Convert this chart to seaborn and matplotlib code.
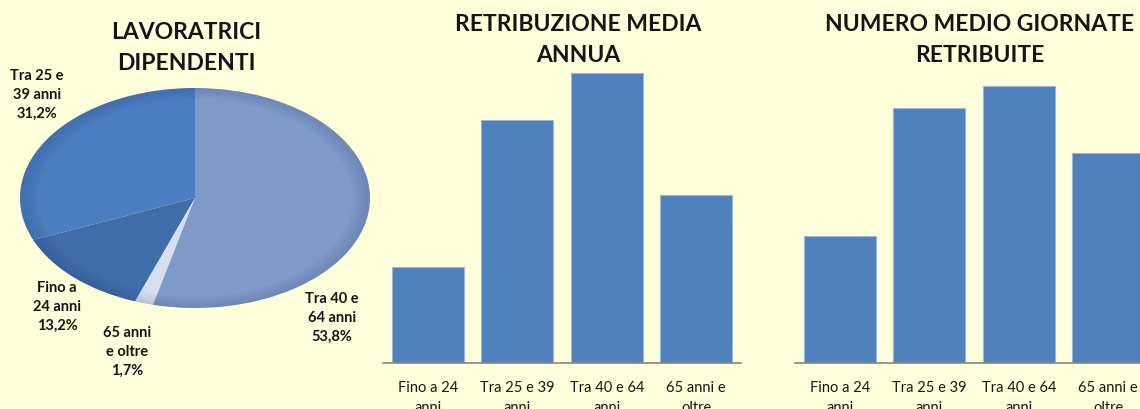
import matplotlib
matplotlib.use("Agg")
import matplotlib.pyplot as plt
from matplotlib.patches import Wedge
import seaborn as sns

# data
age_groups = ["Fino a 24\nanni", "Tra 25 e 39\nanni", "Tra 40 e 64\nanni", "65 anni e\noltre"]
retribuzione_media = [6100, 15500, 18500, 10700]
giornate_medie = [115, 230, 250, 190]

pie_labels = ["Tra 25 e\n39 anni", "Fino a\n24 anni", "65 anni\ne oltre", "Tra 40 e\n64 anni"]
pie_shares = [31.2, 13.2, 1.7, 53.8]
pie_colors = ["#4A7DC1", "#3F6DAA", "#D5DFEF", "#7F99C9"]

BG = "#FFFFDC"
BAR = "#4F81BD"
AXIS = "#868686"
TXT = "#151515"

sns.set_style("white")
plt.rcParams["font.family"] = ["Lato", "DejaVu Sans"]

W, H = 1140, 409
fig = plt.figure(figsize=(W / 100, H / 100), dpi=100, facecolor=BG)


def px_axes(left, top, right, bottom):
    return fig.add_axes([left / W, 1 - bottom / H, (right - left) / W, (bottom - top) / H])


# ---- pie: LAVORATRICI DIPENDENTI ----
ax_pie = px_axes(0, 0, 380, 409)
ax_pie.set_facecolor("none")
ax_pie.pie(pie_shares, colors=pie_colors, startangle=90, counterclock=True,
           wedgeprops=dict(linewidth=0))
# soft darker rim to fake the bevel
for k in range(10):
    ax_pie.add_patch(Wedge((0, 0), 1 - k * 0.01, 0, 360, width=0.01,
                           facecolor=(0.05, 0.1, 0.25, 0.14 - k * 0.013), linewidth=0))
ax_pie.set_aspect("auto")
cx, cy, a, b = 195, 198, 175, 110
ax_pie.set_xlim(-cx / a, (380 - cx) / a)
ax_pie.set_ylim(-(409 - cy) / b, cy / b)
ax_pie.axis("off")

label_pos = [(37, 95), (57, 307), (127, 352), (332, 318)]
for lab, val, (px, py) in zip(pie_labels, pie_shares, label_pos):
    txt = lab + "\n" + f"{val:.1f}%".replace(".", ",")
    ax_pie.text((px - cx) / a, (cy - py) / b, txt, ha="center", va="center",
                fontsize=10.5, fontweight="bold", color=TXT, linespacing=1.45)

fig.text(186 / W, 1 - 48 / H, "LAVORATRICI\nDIPENDENTI", ha="center", va="center",
         fontsize=16.5, fontweight="bold", color=TXT, linespacing=1.55)


# ---- bar charts ----
def bar_panel(left, right, values, ymax, title, title_x):
    ax = px_axes(left, 60, right, 363)
    ax.set_facecolor("none")
    sns.barplot(x=age_groups, y=values, ax=ax, color=BAR, width=0.8,
                edgecolor="#9DB5D6", linewidth=0.8, saturation=1)
    ax.set_xlim(-0.5, 3.5)
    ax.set_ylim(0, ymax)
    ax.set_yticks([])
    ax.set_ylabel("")
    for s in ["top", "right", "left"]:
        ax.spines[s].set_visible(False)
    ax.spines["bottom"].set_color(AXIS)
    ax.spines["bottom"].set_linewidth(1.2)
    ax.set_xticks([-0.5, 0.5, 1.5, 2.5, 3.5], minor=True)
    ax.tick_params(axis="x", which="minor", length=5, width=1.2, color=AXIS, direction="out")
    ax.tick_params(axis="x", which="major", length=0, pad=13, labelsize=10.5, labelcolor=TXT)
    for t in ax.get_xticklabels():
        t.set_linespacing(1.55)
    fig.text(title_x / W, 1 - 40 / H, title, ha="center", va="center",
             fontsize=16.5, fontweight="bold", color=TXT, linespacing=1.55)
    return ax


bar_panel(383, 741, retribuzione_media, 19330, "RETRIBUZIONE MEDIA\nANNUA", 578)
bar_panel(795, 1153, giornate_medie, 273.5, "NUMERO MEDIO GIORNATE\nRETRIBUITE", 980)

fig.savefig("out.png", dpi=100, facecolor=BG)
